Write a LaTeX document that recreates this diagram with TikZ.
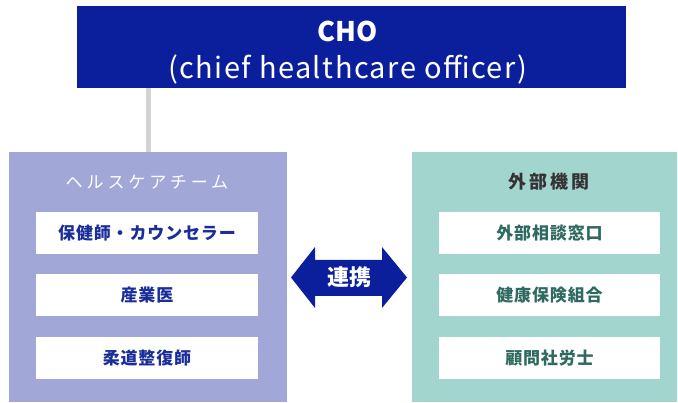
\documentclass[tikz,border=0pt]{standalone}
\usepackage{fontspec}
\newfontfamily\jp{Noto Sans CJK JP}
\newfontfamily\jpitem[LetterSpace=5]{Noto Sans CJK JP}
\newfontfamily\jpsp[LetterSpace=15]{Noto Sans CJK JP}
\newfontfamily\jpwide[LetterSpace=23]{Noto Sans CJK JP}
\newfontfamily\jplat[LetterSpace=5]{Noto Sans CJK JP}
\definecolor{navy}{HTML}{0B1E9C}
\definecolor{lav}{HTML}{A1A8D7}
\definecolor{teal}{HTML}{A3D5CF}
\definecolor{ltext}{HTML}{1A2E9A}
\definecolor{rtext}{HTML}{2F6A60}
\definecolor{gline}{HTML}{D3D3D3}
\tikzset{
  panel/.style={draw=none, inner sep=0pt, minimum width=#1, minimum height=250pt},
  item/.style={fill=white, inner sep=0pt, minimum width=222pt, minimum height=42pt, font=\jpitem\bfseries\fontsize{17pt}{17pt}\selectfont},
  ttl/.style={inner sep=0pt},
}
\begin{document}
\begin{tikzpicture}[x=1pt,y=-1pt]
\useasboundingbox (0,0) rectangle (678,403);
% top box
\node[fill=navy, inner sep=0pt, minimum width=549pt, minimum height=82pt] (cho) at (351.5,47) {};
\node[text=white, inner sep=0pt, font=\jp\bfseries\fontsize{27pt}{27pt}\selectfont] (chot) at (347.5,31) {CHO};
\node[text=white, inner sep=0pt, font=\jplat\fontsize{29pt}{29pt}\selectfont] (chos) at (347.5,69) {(chief healthcare officer)};
% panels
\node[panel=278pt, fill=lav] (left) at (148,277) {};
\node[panel=265pt, fill=teal] (right) at (544.5,277) {};
% connector
\draw[gline, line width=5pt] (148,88) -- (left.north -| 148,0);
% titles
\node[ttl, text=white, font=\jpwide\fontsize{17pt}{17pt}\selectfont] (lt) at (147,182) {ヘルスケアチーム};
\node[ttl, text=black!80, font=\jpsp\bfseries\fontsize{18pt}{18pt}\selectfont] (rt) at (549,182) {外部機関};
% left items
\node[item, text=ltext] (l1) at (147,233) {保健師・カウンセラー};
\node[item, text=ltext] (l2) at (147,295.5) {産業医};
\node[item, text=ltext] (l3) at (147,358) {柔道整復師};
% right items
\node[item, text=rtext, minimum width=221pt] (r1) at (549.5,233) {外部相談窓口};
\node[item, text=rtext, minimum width=221pt] (r2) at (549.5,295.5) {健康保険組合};
\node[item, text=rtext, minimum width=221pt] (r3) at (549.5,358) {顧問社労士};
% double arrow
\fill[navy] (291,277.5) -- (315,247) -- (315,260) -- (382,260) -- (382,247) -- (407,277.5) -- (382,308) -- (382,296) -- (315,296) -- (315,308) -- cycle;
\node[text=white, inner sep=0pt, font=\jp\bfseries\fontsize{22pt}{22pt}\selectfont] (ren) at (349,277) {連携};
\end{tikzpicture}
\end{document}
